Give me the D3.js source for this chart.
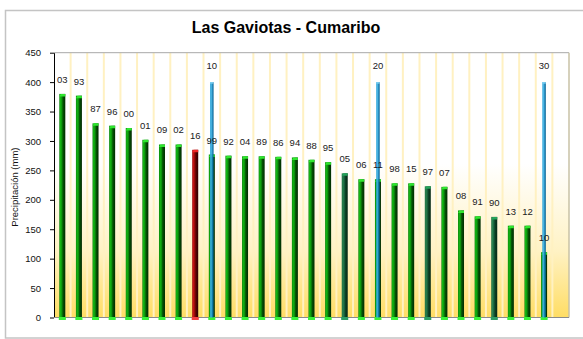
<!DOCTYPE html>
<html>
<head>
<meta charset="utf-8">
<script src="https://cdn.jsdelivr.net/npm/d3@7/dist/d3.min.js"></script>
<style>
  html, body { margin: 0; padding: 0; background: #fff; }
  svg { display: block; font-family: "Liberation Sans", Arial, sans-serif; }
</style>
</head>
<body>
<svg id="chart" width="583" height="339"></svg>
<script>
// Annual precipitation ranking, Las Gaviotas station (Cumaribo)
const years = ["03","93","87","96","00","01","09","02","16","99","92","04","89","86","94",
               "88","95","05","06","11","98","15","97","07","08","91","90","13","12","10",""];
const precip = [380,377,330,326,322,302,294,294,285,277,275,274,274,273,272,
                268,264,245,235,235,228,228,223,222,182,172,171,156,156,111,null];
// Rank markers every ten positions
const markRanks = [10, 20, 30];
const markValues = [400, 400, 400];
// Year groupings
const currentYear = "16";
const darkYears = ["05", "97", "90"];
const yTicks = [0, 50, 100, 150, 200, 250, 300, 350, 400, 450];

const svg = d3.select("#chart");
const plot = { left: 54, right: 569, top: 52.7, bottom: 317.5 };

const x = d3.scaleBand().domain(d3.range(years.length)).range([plot.left, plot.right]).padding(0);
const y = d3.scaleLinear().domain([0, 450]).range([plot.bottom, plot.top]);

const defs = svg.append("defs");
function hGrad(id, stops) {
  const g = defs.append("linearGradient").attr("id", id).attr("x1", 0).attr("x2", 1).attr("y1", 0).attr("y2", 0);
  stops.forEach(([o, c]) => g.append("stop").attr("offset", o).attr("stop-color", c));
}
hGrad("gGreen", [[0, "#077a07"], [0.18, "#14b814"], [0.42, "#0c940c"], [0.62, "#045204"], [1, "#012a01"]]);
hGrad("gDark",  [[0, "#1b6a3e"], [0.2, "#2a8350"], [0.45, "#17603a"], [0.65, "#0a3d22"], [1, "#062814"]]);
hGrad("gRed",   [[0, "#9a0606"], [0.2, "#c81414"], [0.45, "#8a0808"], [0.65, "#520202"], [1, "#2e0000"]]);
hGrad("gBlue",  [[0, "#2aa2d8"], [0.35, "#3bb0e2"], [0.65, "#1180b8"], [1, "#065e8c"]]);
const bg = defs.append("linearGradient").attr("id", "gBg").attr("x1", 0).attr("x2", 0).attr("y1", 0).attr("y2", 1);
[[0, "#ffffff"], [0.42, "#ffffff"], [0.75, "#fff2c4"], [1, "#ffdd64"]]
  .forEach(([o, c]) => bg.append("stop").attr("offset", o).attr("stop-color", c));

// Outer frame
svg.append("rect").attr("x", 5.5).attr("y", 10.5).attr("width", 600).attr("height", 327.5)
  .attr("fill", "#fff").attr("stroke", "#c4c4c4").attr("stroke-width", 1.5);

// Title
svg.append("text").attr("x", 286).attr("y", 33).attr("text-anchor", "middle")
  .attr("font-size", 16).attr("font-weight", "bold").attr("fill", "#000")
  .text("Las Gaviotas - Cumaribo");

// Plot background
svg.append("rect").attr("x", plot.left).attr("y", plot.top)
  .attr("width", plot.right - plot.left).attr("height", plot.bottom - plot.top)
  .attr("fill", "url(#gBg)");

// Vertical category separators
svg.append("g").selectAll("line").data(d3.range(1, years.length)).join("line")
  .attr("x1", i => x(i)).attr("x2", i => x(i))
  .attr("y1", plot.top).attr("y2", plot.bottom)
  .attr("stroke", "#fff1c2").attr("stroke-width", 2);

// Plot frame: top and right edges
svg.append("line").attr("x1", plot.left).attr("x2", plot.right).attr("y1", plot.top).attr("y2", plot.top)
  .attr("stroke", "#a8a8a8").attr("stroke-width", 1);
svg.append("line").attr("x1", plot.right).attr("x2", plot.right).attr("y1", plot.top).attr("y2", plot.bottom)
  .attr("stroke", "#c9c2a6").attr("stroke-width", 1.5);

// Y axis
const yAxis = svg.append("g").attr("transform", `translate(${plot.left},0)`)
  .call(d3.axisLeft(y).tickValues(yTicks).tickSize(4).tickPadding(9).tickSizeOuter(0));
yAxis.select(".domain").attr("stroke", "#000");
yAxis.selectAll(".tick line").attr("stroke", "#000");
yAxis.selectAll(".tick text").attr("font-size", 9.5).attr("fill", "#111")
  .attr("font-family", "Liberation Sans, Arial, sans-serif");

svg.append("text").attr("transform", `translate(18,${(plot.top + plot.bottom) / 2 + 2}) rotate(-90)`)
  .attr("text-anchor", "middle").attr("font-size", 9.5).attr("fill", "#111")
  .text("Precipitación  (mm)");

// Bottom axis line
svg.append("line").attr("x1", plot.left).attr("x2", plot.right).attr("y1", plot.bottom).attr("y2", plot.bottom)
  .attr("stroke", "#8a8a8a").attr("stroke-width", 1);

// Precipitation bars
const barW = 6;
const rows = years.map((yr, i) => ({ yr, v: precip[i], i })).filter(d => d.v != null);
function kind(d) { return d.yr === currentYear ? "red" : darkYears.includes(d.yr) ? "dark" : "green"; }
const fillOf = { green: "url(#gGreen)", dark: "url(#gDark)", red: "url(#gRed)" };
const capOf = { green: "#2fe62f", dark: "#25a35a", red: "#f02828" };
const baseOf = { green: "#38f038", dark: "#2b9d62", red: "#f24040" };

const bars = svg.append("g").selectAll("g").data(rows).join("g")
  .attr("transform", d => `translate(${x(d.i) + x.bandwidth() / 2 - barW / 2},0)`);
bars.append("rect").attr("x", 0).attr("width", barW)
  .attr("y", d => y(d.v)).attr("height", d => y(0) - y(d.v) + 2)
  .attr("fill", d => fillOf[kind(d)]);
bars.append("path")
  .attr("d", d => `M0,${y(d.v) + 2.5} L1.5,${y(d.v)} L${barW},${y(d.v)} L${barW},${y(d.v) + 2.5} Z`)
  .attr("fill", d => capOf[kind(d)]);
bars.append("rect").attr("x", -0.5).attr("width", barW + 1)
  .attr("y", y(0) - 0.5).attr("height", 3)
  .attr("fill", d => baseOf[kind(d)]);

// Rank markers
const marks = markRanks.map((r, k) => ({ r, v: markValues[k], i: r - 1 }));
const blueW = 3.6;
const mg = svg.append("g").selectAll("g").data(marks).join("g")
  .attr("transform", d => `translate(${x(d.i) + x.bandwidth() / 2 - blueW / 2},0)`);
mg.append("rect").attr("x", 0).attr("width", blueW)
  .attr("y", d => y(d.v)).attr("height", d => y(0) - y(d.v))
  .attr("fill", "url(#gBlue)").attr("opacity", 0.92);
mg.append("rect").attr("x", 0).attr("width", blueW)
  .attr("y", d => y(d.v)).attr("height", 1.5).attr("fill", "#7fd0f2");

// Labels
const lbl = svg.append("g").attr("font-size", 9.5).attr("fill", "#1a1a1a").attr("text-anchor", "middle");
lbl.selectAll("text.yr").data(rows).join("text").attr("class", "yr")
  .attr("x", d => x(d.i) + x.bandwidth() / 2)
  .attr("y", d => y(d.v) - 11)
  .text(d => d.yr);
lbl.selectAll("text.mk").data(marks).join("text").attr("class", "mk")
  .attr("x", d => x(d.i) + x.bandwidth() / 2)
  .attr("y", d => y(d.v) - 13)
  .text(d => d.r);
</script>
</body>
</html>
